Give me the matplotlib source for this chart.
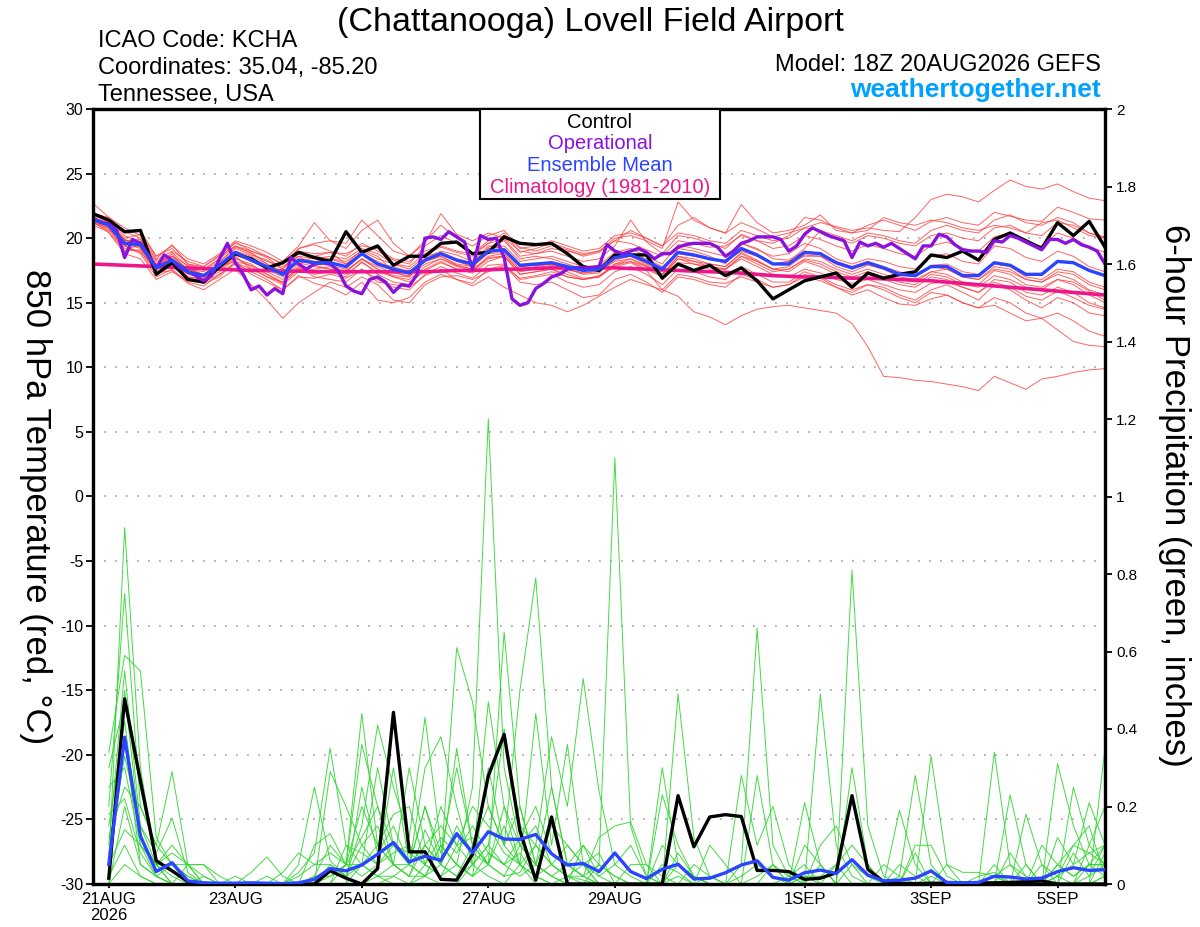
import numpy as np
import matplotlib
matplotlib.use("Agg")
import matplotlib.pyplot as plt
from matplotlib.patches import Rectangle

plt.rcParams['font.family'] = ['Liberation Sans', 'DejaVu Sans']
plt.rcParams['axes.unicode_minus'] = False

# ------------------------------------------------------------------ data
title = "(Chattanooga) Lovell Field Airport"
info_lines = ["ICAO Code: KCHA", "Coordinates: 35.04, -85.20", "Tennessee, USA"]
model_text = "Model: 18Z 20AUG2026 GEFS"
site_text = "weathertogether.net"
legend_labels = ["Control", "Operational", "Ensemble Mean", "Climatology (1981-2010)"]

x_tick_days = [0, 2, 4, 6, 8, 11, 13, 15]
x_tick_labels = ["21AUG\n2026", "23AUG", "25AUG", "27AUG", "29AUG", "1SEP", "3SEP", "5SEP"]
temp_ticks = [-30, -25, -20, -15, -10, -5, 0, 5, 10, 15, 20, 25, 30]
temp_grid = [-25, -20, -15, -10, -5, 0, 5, 10, 15, 20, 25]
precip_ticks = [0, 0.2, 0.4, 0.6, 0.8, 1.0, 1.2, 1.4, 1.6, 1.8, 2.0]
precip_tick_labels = ["0", "0.2", "0.4", "0.6", "0.8", "1", "1.2", "1.4", "1.6", "1.8", "2"]

# forecast hours after 18Z 20AUG
temp_hours = np.arange(0, 385, 6)
oper_hours = np.arange(0, 385, 3)
precip_hours = np.arange(6, 385, 6)

control_t = [21.9,21.4,20.5,20.6,17.2,18.1,16.8,16.6,17.8,18.8,
             18.4,17.7,18.1,18.9,18.5,18.2,20.5,18.9,19.4,17.9,
             18.6,18.6,19.6,19.7,18.8,18.9,20.1,19.6,19.5,19.6,
             18.8,17.8,17.5,18.7,18.7,18.7,16.9,18.0,17.5,17.9,
             17.1,17.7,16.7,15.3,16.0,16.7,17.0,17.3,16.2,17.3,
             16.9,17.2,17.4,18.7,18.5,19.0,18.3,19.9,20.4,19.8,
             19.2,21.2,20.2,21.3,19.3]

operational_t = [21.5,21.2,21.1,20.6,18.5,19.9,19.6,18.7,17.7,18.7,
                 18.3,17.7,17.4,17.1,16.7,17.1,18.4,19.6,18.1,17.2,
                 16.0,16.3,15.6,16.1,15.7,18.5,18.0,17.6,18.0,18.1,
                 18.0,17.5,16.3,15.9,15.7,16.8,17.0,16.6,15.8,16.4,
                 16.3,17.2,20.0,
                 20.1,19.9,20.5,20.1,19.7,17.6,20.2,19.9,20.0,18.5,
                 15.3,14.8,15.0,16.1,16.5,17.0,17.2,17.6,17.7,17.7,
                 17.7,17.8,19.5,19.0,18.8,19.0,19.2,18.9,18.4,18.8,
                 18.8,19.3,19.5,19.6,19.6,19.6,19.3,18.6,19.0,19.6,
                 19.8,20.1,20.1,20.1,
                 19.9,19.0,19.4,20.3,20.8,20.5,20.2,20.0,19.8,18.5,
                 19.7,19.4,19.6,19.3,19.6,19.2,18.8,18.4,19.4,19.4,
                 20.3,20.1,19.5,19.1,19.0,19.0,18.9,19.8,19.7,20.2,
                 20.0,19.7,19.4,19.1,19.9,19.9,19.6,19.9,19.5,19.3,
                 19.0,18.0]

ens_mean_t = [21.5,21.0,19.6,19.5,17.7,18.3,17.4,17.1,17.9,18.9,
              18.3,17.8,17.2,18.3,18.1,18.1,17.8,18.8,18.0,17.6,
              17.3,18.3,18.8,18.3,18.0,19.0,19.1,17.9,18.0,18.1,
              17.8,17.5,17.6,18.5,18.7,18.2,17.6,18.9,18.7,18.4,
              18.2,19.2,18.7,18.0,18.0,18.9,18.8,18.1,17.7,18.1,
              17.7,17.2,17.1,17.8,17.8,17.1,17.1,18.1,17.9,17.2,
              17.2,18.2,18.1,17.5,17.1]

climatology_t = [18.0,17.95,17.9,17.85,17.8,17.75,17.7,17.65,17.6,17.55,
                 17.5,17.5,17.45,17.45,17.4,17.4,17.4,17.4,17.4,17.4,
                 17.4,17.4,17.45,17.5,17.5,17.55,17.6,17.6,17.65,17.7,
                 17.7,17.7,17.7,17.7,17.65,17.6,17.55,17.5,17.45,17.4,
                 17.35,17.3,17.2,17.1,17.05,17.0,17.0,16.95,16.9,16.9,
                 16.85,16.8,16.75,16.7,16.6,16.5,16.4,16.3,16.2,16.1,
                 16.0,15.9,15.8,15.7,15.6]

control_p = [.015,.478,.266,.06,.034,.006,0,0,0,0,
             0,0,0,0,.034,.015,0,.04,.443,.083,
             .083,.012,.01,.077,.279,.386,.137,.01,.173,0,
             0,0,0,0,0,0,.228,.096,.173,.179,
             .174,.035,.035,.032,.012,.015,.029,.228,.038,.006,
             .002,.001,.002,.002,.002,.003,.003,.004,.006,.008,
             0,0,0,0]

ens_mean_p = [.051,.379,.124,.032,.055,.008,.003,.002,.002,.003,
              .002,.001,.003,.012,.040,.034,.049,.077,.107,.057,
              .072,.061,.13,.081,.135,.116,.115,.128,.078,.049,
              .053,.032,.08,.032,.014,.038,.051,.013,.015,.029,
              .049,.06,.017,.01,.029,.036,.027,.063,.023,.008,
              .01,.015,.034,.004,.003,.004,.02,.018,.013,.015,
              .032,.042,.035,.037]

# ensemble members, 850 hPa temperature
t_m01 = [22.7,21.6,20.8,20.2,18.4,19.5,18.0,17.6,18.4,19.7,19.0,18.5,17.6,19.2,19.5,19.0,
         18.6,19.6,19.0,18.3,18.0,19.4,20.2,19.6,18.8,19.8,20.2,19.3,19.0,19.4,19.1,18.6,
         18.9,19.8,20.6,20.0,19.4,21.0,21.6,20.8,20.4,21.2,20.7,20.1,20.4,20.8,21.2,20.9,
         20.6,20.8,20.6,20.5,21.6,23.0,23.4,23.2,22.8,23.7,24.5,24.0,23.8,24.2,23.6,23.1,22.9]
t_m02 = [21.3,20.7,19.2,19.0,17.2,17.8,16.9,16.5,17.0,18.2,17.9,17.2,16.5,17.6,17.4,17.5,
         17.2,18.1,17.4,17.0,16.6,17.5,18.1,17.6,17.3,18.2,18.6,17.2,17.4,17.6,17.0,16.8,
         17.0,17.8,18.1,17.5,16.0,15.5,14.3,13.9,13.3,14.0,14.5,14.7,14.8,14.6,14.4,14.2,
         13.4,11.6,9.3,9.2,9.0,8.9,8.7,8.5,8.2,9.3,8.8,8.3,9.1,9.3,9.6,9.8,9.9]
t_m03 = [21.6,20.9,19.4,18.8,17.0,17.6,16.6,16.3,17.2,18.0,17.4,16.8,16.0,17.0,16.9,17.2,
         16.9,17.6,16.6,16.4,16.2,17.1,17.6,16.8,16.3,17.0,16.2,15.6,15.0,14.8,14.3,14.8,
         15.5,16.2,16.8,16.4,16.0,17.2,17.0,16.6,16.5,17.0,16.6,16.2,16.4,17.0,16.7,16.2,
         15.6,16.0,15.4,14.9,14.8,15.3,15.6,15.0,14.6,14.8,14.2,13.6,13.8,12.9,12.0,11.7,11.6]
t_m04 = [21.9,21.2,19.9,19.3,17.3,17.5,16.5,16.0,16.8,17.6,16.4,15.2,13.8,15.0,15.8,16.6,
         16.2,17.0,16.4,15.2,15.0,16.4,17.0,17.1,16.8,17.4,17.8,16.9,17.1,17.4,17.0,16.8,
         17.1,17.9,18.2,17.8,17.0,18.1,18.0,17.6,17.6,18.4,17.8,17.2,17.0,17.6,17.3,16.8,
         16.5,16.8,16.4,16.0,15.8,16.5,16.6,16.2,15.8,16.6,16.2,15.5,15.2,15.9,15.4,14.8,14.5]
t_m05 = [21.7,21.4,20.4,20.6,18.6,19.2,18.0,17.8,18.7,19.8,19.4,18.9,18.2,19.4,21.2,19.8,
         19.2,20.6,21.4,19.6,18.6,19.6,21.9,20.3,19.8,20.4,20.0,19.0,18.8,19.0,18.6,18.2,
         18.4,19.4,21.4,19.7,18.8,20.2,20.0,19.6,19.2,20.3,19.8,19.2,19.4,20.2,19.9,19.4,
         19.0,19.5,19.2,18.8,18.6,19.4,19.7,19.2,19.0,20.1,20.4,19.6,19.4,20.4,20.0,19.3,18.9]
t_m06 = [21.4,20.8,19.0,19.6,17.8,18.9,17.8,17.0,17.6,18.6,17.6,17.4,16.8,18.0,18.6,18.9,
         18.0,19.1,18.6,17.4,17.0,18.2,18.6,17.9,17.6,19.3,19.8,18.4,18.6,18.4,18.0,17.6,
         17.8,18.6,18.6,18.0,17.2,18.6,18.2,18.0,17.8,18.9,18.3,17.6,17.8,18.7,18.6,17.8,
         17.4,17.9,17.6,17.0,16.8,17.4,17.2,16.6,16.4,17.5,17.2,16.4,16.2,16.8,16.6,15.9,15.2]
t_m07 = [21.2,20.6,19.8,19.7,18.2,18.6,17.9,17.5,18.4,19.4,18.8,18.2,17.8,18.6,17.9,17.6,
         17.4,18.4,17.6,17.1,17.0,18.4,19.0,18.7,18.2,19.4,19.2,17.8,17.9,18.0,17.6,17.2,
         17.3,18.4,18.6,18.1,17.4,19.2,19.0,18.6,18.0,19.6,19.1,18.6,18.8,19.6,19.2,18.4,
         18.0,18.4,18.2,17.8,17.6,18.6,18.8,18.2,18.0,19.4,19.2,18.5,18.2,19.0,18.6,17.8,17.4]
t_m08 = [21.6,21.2,19.4,18.9,17.6,18.2,17.0,16.8,17.4,18.4,18.0,17.2,16.6,17.7,17.2,17.4,
         17.0,18.2,17.2,16.6,16.4,17.6,18.2,17.6,17.4,18.6,18.8,17.4,17.6,17.8,17.4,16.9,
         17.0,18.0,18.2,17.6,17.0,18.4,18.0,17.8,17.6,18.6,18.0,17.4,17.6,18.3,18.0,17.4,
         17.0,17.4,17.0,16.6,16.4,17.2,17.0,16.4,16.2,17.1,16.8,16.2,16.0,16.8,16.4,15.6,15.0]
t_m09 = [21.5,21.1,19.8,19.9,17.9,18.4,17.6,17.4,18.2,19.2,18.7,18.3,17.6,18.8,18.6,18.4,
         18.2,19.0,18.4,18.0,17.8,18.8,19.3,18.9,18.6,19.6,19.9,18.6,18.8,19.2,19.0,18.7,
         19.0,19.8,19.6,19.1,18.6,19.8,19.6,19.3,19.4,20.2,19.8,19.6,20.2,21.6,21.4,20.8,
         20.4,21.0,21.4,21.0,20.6,21.3,21.6,21.2,21.0,22.0,21.7,21.4,21.3,22.4,22.0,21.5,21.4]
t_m10 = [21.3,20.4,18.8,18.4,16.8,17.4,16.7,16.9,17.8,18.2,17.2,16.6,16.0,17.1,16.5,16.2,
         15.6,16.6,15.2,15.0,15.4,16.6,17.2,16.8,16.5,17.6,17.9,16.6,16.4,16.6,16.0,15.4,
         15.6,16.8,17.2,16.6,15.8,17.0,16.8,16.4,16.2,17.2,16.8,16.2,16.4,17.2,16.9,16.2,
         15.8,16.4,16.2,15.6,15.2,16.0,16.4,15.8,15.2,16.4,16.0,15.2,14.6,15.4,15.0,14.2,14.0]
t_m11 = [21.8,21.3,20.2,19.6,17.8,18.6,17.6,17.2,18.0,19.0,18.6,18.0,17.4,18.6,18.4,18.6,
         18.4,19.2,18.8,18.0,17.6,18.6,18.9,18.4,18.1,19.2,19.4,18.2,18.4,18.6,18.2,17.8,
         17.9,18.9,19.2,18.6,18.0,19.5,19.2,18.9,18.6,19.6,19.2,18.4,18.3,19.0,18.8,18.2,
         17.8,18.2,17.8,17.4,17.0,17.9,18.0,17.4,17.2,18.0,17.8,17.0,16.8,17.6,17.4,16.6,16.2]
t_m12 = [21.4,21.0,19.6,19.2,17.4,18.0,17.2,17.0,17.7,18.7,18.2,17.6,17.0,18.2,18.0,17.9,
         17.6,18.8,18.0,17.8,17.4,18.4,18.8,18.2,17.8,18.8,18.9,17.6,17.8,18.0,17.8,17.6,
         17.8,18.6,18.8,18.4,17.8,18.8,18.6,18.4,18.2,19.0,18.6,18.0,18.2,18.6,18.6,18.0,
         17.6,18.0,17.6,17.2,17.0,17.8,17.6,17.0,16.8,17.6,17.4,16.8,16.6,17.4,17.2,16.4,16.0]
t_m13 = [21.9,21.6,20.5,20.0,18.3,19.0,18.2,17.8,18.6,19.4,19.0,18.6,18.0,19.0,18.8,18.9,
         18.8,19.4,19.2,18.4,18.2,19.0,19.4,19.0,18.8,19.6,20.4,18.9,19.2,19.6,19.2,18.8,
         19.0,20.0,20.2,19.8,19.2,22.8,21.4,20.8,20.4,22.6,21.2,20.4,20.6,21.0,21.8,20.6,
         20.4,20.6,21.6,21.2,21.0,21.4,21.2,20.8,20.6,21.0,20.8,20.4,21.2,21.4,20.8,20.2,20.0]
t_m14 = [21.2,20.8,19.4,19.8,18.0,18.6,17.6,17.2,18.0,19.0,18.4,17.8,17.2,18.4,18.2,18.4,
         18.0,18.8,18.2,17.6,17.2,18.2,18.6,18.0,17.8,18.9,19.0,17.8,17.9,18.0,17.6,17.3,
         17.4,18.2,18.4,17.9,17.2,18.6,18.4,18.0,17.8,18.8,18.2,17.6,17.6,18.4,18.2,17.6,
         17.2,17.6,17.2,16.8,16.6,17.4,17.6,17.0,16.8,17.8,17.6,16.8,16.6,17.2,16.8,16.0,15.6]
t_m15 = [21.6,21.2,20.0,20.3,18.6,19.4,18.4,18.0,18.8,19.6,19.2,18.6,18.0,19.2,19.6,19.8,
         19.6,21.4,20.2,19.0,18.6,19.8,21.0,20.0,19.4,20.2,20.6,19.2,19.4,19.8,19.4,19.0,
         19.2,20.2,20.4,20.0,19.4,20.4,20.2,19.8,19.6,20.6,20.2,19.8,20.0,20.8,20.6,20.0,
         19.6,20.2,20.0,19.6,19.4,20.2,20.4,20.0,19.8,20.8,21.0,20.4,20.2,21.2,21.0,20.4,20.0]
t_m16 = [21.5,20.9,19.5,19.3,17.6,17.8,16.9,16.6,17.2,18.1,17.6,17.0,16.4,17.4,17.6,17.8,
         17.4,18.4,17.6,17.0,16.8,17.8,18.4,17.8,17.5,18.4,18.6,17.2,17.4,17.6,17.2,16.8,
         17.0,18.0,18.4,17.8,17.2,18.4,18.2,17.8,17.6,18.6,18.2,17.6,17.4,18.2,17.8,17.2,
         16.8,17.2,16.8,16.4,16.2,17.0,16.8,16.2,15.8,16.8,16.6,15.8,15.6,16.2,15.8,15.0,14.6]
t_m17 = [21.6,21.0,19.9,19.4,17.5,18.8,17.3,17.0,18.1,19.3,18.9,18.0,17.3,18.1,17.8,17.6,
         17.5,18.4,17.8,17.3,17.1,18.0,18.4,17.9,17.6,18.5,18.6,17.5,17.7,17.9,17.6,17.3,
         17.5,18.3,18.6,18.2,17.6,18.9,18.7,18.4,18.3,19.2,18.6,18.0,18.2,19.2,20.6,20.2,
         19.8,20.4,20.2,19.8,19.6,20.6,21.0,20.6,20.4,21.4,21.8,21.2,21.0,21.6,21.2,20.4,20.1]
t_m18 = [21.0,20.5,19.0,19.1,17.8,18.0,17.0,16.8,17.6,18.5,17.8,17.0,16.6,17.8,17.0,16.8,
         16.6,17.6,16.8,16.2,16.0,17.2,17.8,17.3,16.9,17.9,18.0,16.8,17.0,17.2,16.6,16.2,
         16.4,17.4,17.8,17.2,16.4,17.6,17.4,17.0,16.8,17.8,17.2,16.6,16.6,17.4,17.0,16.4,
         16.0,16.4,16.0,15.4,15.0,15.8,15.6,15.0,14.6,15.4,15.0,14.2,13.8,14.2,13.6,12.8,12.4]
temp_members = [t_m01, t_m02, t_m03, t_m04, t_m05, t_m06, t_m07, t_m08, t_m09,
                t_m10, t_m11, t_m12, t_m13, t_m14, t_m15, t_m16, t_m17, t_m18]

# ensemble members, 6-hour precipitation (inches)
p_m01 = [.05,.92,.30,.05,.02,0,0,0, 0,0,0,0,0,.02,.10,.05,
         .44,.10,.05,.02,.14,.05,.61,.47, .20,.10,.05,.02,0,0,.10,.05,
         1.10,.15,.02,0,0,0,0,0, .05,.66,.10,.02,0,0,0,0,
         0,0,.02,.28,.05,0,0,0, 0,0,0,0,.05,.02,.05,.10]
p_m02 = [.34,.59,.55,.12,.05,.02,0,0, 0,0,0,0,.03,.08,.35,.10,
         .05,.30,.10,.05,.02,.10,.05,.25, 1.20,.30,.10,.05,.02,0,0,0,
         0,0,0,.30,.05,.02,0,0, 0,0,0,0,.21,.05,0,.81,
         .15,.02,0,0,0,0,0,0, .34,.05,0,0,0,0,0,.02]
p_m03 = [.20,.75,.20,.10,.29,.05,.05,.02, 0,0,0,0,0,0,0,.05,
         .36,.20,.05,.30,.10,.05,.35,.10, .05,.65,.20,.05,.02,0,0,0,
         0,0,0,0,.49,.12,.02,0, 0,0,0,0,0,.49,.10,.02,
         0,0,0,0,.33,.05,0,0, 0,0,0,0,.31,.15,.05,.05]
p_m04 = [.10,.55,.15,.08,.17,.03,0,0, 0,0,0,0,.05,.25,.06,.02,
         .15,.41,.25,.12,.43,.10,.05,.02, .30,.10,.50,.79,.25,.05,.02,0,
         0,0,0,0,0,0,0,0, .28,.10,.20,.05,0,0,0,0,
         0,0,.19,.05,0,0,0,0, 0,.23,.05,0,0,.25,.10,.05]
p_m05 = [.30,.47,.25,.05,.10,.05,0,0, 0,.03,.07,.02,0,0,.29,.20,
         .10,.05,.30,.05,.30,.38,.20,.05, .47,.20,.05,.44,.10,.36,.05,0,
         0,0,0,.23,.10,.02,0,0, 0,.28,.05,0,0,0,0,.30,
         .05,0,0,0,0,0,0,0, .05,0,.18,.05,0,0,0,.35]
p_m06 = [.15,.42,.10,.05,.05,.02,0,0, 0,0,0,0,0,.10,.13,.05,
         .20,.10,.18,.20,.05,.20,.10,.05, .10,.40,.15,.10,.38,.20,.53,.24,
         .05,.02,0,0,0,0,.10,.05, 0,0,0,0,0,.10,.15,.05,
         0,0,0,.10,.10,.02,0,0, 0,0,0,0,.12,.05,.21,.10]
p_m07 = [.02,.38,.05,.02,0,0,0,0, .02,0,0,0,0,0,0,.10,
         .08,.05,.10,.05,.20,.05,.02,.10, .05,.20,.10,.05,.25,.05,.02,.12,
         .15,.16,.05,0,0,0,0,0, 0,0,0,.02,.05,0,0,0,
         0,.05,.02,0,0,0,0,0, .02,.05,.02,0,0,0,.10,.20]
p_m08 = [.08,.33,.15,.05,0,0,.02,0, 0,0,0,.03,.08,.05,.05,.02,
         .10,.15,.05,.02,.10,.05,.15,.08, .05,.02,.10,.15,.05,.10,.05,.02,
         .05,.10,.02,0,0,.05,.02,0, 0,0,.05,.02,0,0,0,0,
         0,0,0,0,0,.05,.03,.03, .02,0,0,.10,.05,.02,.05,.05]
p_m09 = [.25,.30,.10,.02,.05,.05,.05,0, 0,0,0,0,0,0,.02,.05,
         .02,.05,.08,.10,.05,.02,.10,.20, .15,.08,.05,.10,.05,.02,.05,0,
         0,.05,.05,.02,0,0,0,0, .02,.05,.02,0,0,.05,0,0,
         0,0,0,0,0,0,0,0, 0,0,0,0,.02,.10,.15,.02]
p_m10 = [.12,.25,.20,.10,.05,0,0,0, 0,0,0,0,0,0,0,0,
         .05,.10,.05,.05,.10,.15,.10,.12, .05,.02,.03,.10,.05,.02,.02,0,
         0,0,0,.05,.03,0,0,0, 0,0,0,0,.02,.02,.05,0,
         0,0,0,0,0,0,0,0, .02,0,0,0,.05,.10,.08,.10]
p_m11 = [0,.20,.05,.02,0,0,0,0, 0,0,0,0,0,0,0,0,
         0,.02,.05,.02,.02,.10,.05,.02, .08,.05,.02,.05,.02,.05,.10,.02,
         0,0,0,0,.05,.02,0,0, 0,0,0,0,0,0,0,0,
         0,0,.05,.02,0,0,0,0, 0,0,.05,0,0,0,.02,.05]
p_m12 = [.05,.14,.10,.05,0,.05,.02,0, 0,0,0,0,0,0,.05,.02,
         .05,.02,.02,.05,.02,.05,.02,.05, .10,.05,.08,.02,.05,.02,.01,0,
         0,0,0,0,0,0,0,0, 0,.02,.05,0,0,0,0,0,
         0,0,0,0,0,0,0,.02, .03,0,0,0,0,0,0,.08]
p_m13 = [.02,.10,.02,0,0,0,0,0, 0,0,0,0,0,.02,.02,.05,
         .05,.02,0,0,.05,.02,.05,.02, .05,.15,.05,.02,0,0,0,.05,
         .02,0,0,0,0,0,.02,0, 0,0,0,0,0,0,.05,.10,
         .05,0,0,0,0,0,0,0, 0,0,0,0,0,0,.05,.02]
p_m14 = [0,.05,.02,0,0,0,0,0, 0,0,0,0,0,0,0,0,
         0,0,.02,0,.02,0,0,.05, .02,0,.05,0,0,.02,0,0,
         0,0,0,0,.02,0,0,0, 0,0,0,0,.02,0,0,0,
         0,0,0,0,.02,0,0,0, 0,0,0,0,.02,0,0,.02]
p_m15 = [0,.50,.12,.05,.08,.05,0,0, 0,0,.02,0,0,0,0,0,
         .25,.08,.15,.05,.20,.08,.30,.10, .20,.10,.20,.05,.15,.10,.05,.08,
         0,0,0,0,.08,.02,0,0, 0,0,0,0,.10,.05,0,0,
         0,0,0,.08,0,0,0,0, 0,.08,.02,0,0,.08,.02,.10]
p_m16 = [.18,.22,.08,.02,0,0,0,0, 0,0,0,0,.02,.05,.08,.05,
         .12,.20,.10,.08,.05,.12,.08,.15, .08,.05,.12,.20,.08,.05,.02,.05,
         .02,0,0,.10,.05,.02,0,0, 0,0,0,0,0,0,0,.05,
         .02,0,0,0,0,0,0,0, 0,0,0,.05,.02,.05,.08,.05]
precip_members = [p_m01, p_m02, p_m03, p_m04, p_m05, p_m06, p_m07, p_m08,
                  p_m09, p_m10, p_m11, p_m12, p_m13, p_m14, p_m15, p_m16]

# ------------------------------------------------------------------ styles
C_MEMBER_T = '#FF3C3C'
C_MEMBER_P = '#2ED62E'
C_CONTROL = '#000000'
C_OPER = '#8A12DE'
C_MEAN = '#2A44FF'
C_CLIM = '#EE168C'
C_SITE = '#00A2FF'

W, H = 1200, 927
fig = plt.figure(figsize=(W / 100, H / 100), dpi=100)


def fx(px):
    return px / W


def fy(py):
    return 1 - py / H


ax = fig.add_axes([fx(93), fy(884), (1105 - 93) / W, (884 - 109) / H])
ax2 = ax.twinx()

# days since 00Z 21AUG
t_days = (temp_hours - 6) / 24.0
o_days = (oper_hours - 6) / 24.0
p_days = (precip_hours - 6) / 24.0

for yv in temp_grid:
    ax.axhline(yv, color='#A0A0A0', lw=1.1, ls=(0, (1.2, 6)), zorder=1)

for m in temp_members:
    ax.plot(t_days, m, color=C_MEMBER_T, lw=0.7, alpha=0.8, zorder=2)
ax.plot(t_days, climatology_t, color=C_CLIM, lw=2.6, zorder=3, solid_capstyle='round')
ax.plot(t_days, control_t, color=C_CONTROL, lw=2.4, zorder=4)
ax.plot(o_days, operational_t, color=C_OPER, lw=2.4, zorder=5)
ax.plot(t_days, ens_mean_t, color=C_MEAN, lw=2.4, zorder=6)

for m in precip_members:
    ax2.plot(p_days, m, color=C_MEMBER_P, lw=0.7, alpha=0.9, zorder=2)
ax2.plot(p_days, control_p, color=C_CONTROL, lw=2.4, zorder=4)
ax2.plot(p_days, ens_mean_p, color=C_MEAN, lw=2.4, zorder=5)

ax.set_xlim(-0.25, 15.75)
ax.set_ylim(-30, 30)
ax2.set_ylim(0, 2)

ax.set_yticks(temp_ticks)
ax.set_yticklabels([str(v) for v in temp_ticks])
ax2.set_yticks(precip_ticks)
ax2.set_yticklabels(precip_tick_labels)
ax.set_xticks(x_tick_days)
ax.set_xticklabels(x_tick_labels, linespacing=1.05)

ax.tick_params(axis='y', direction='out', length=5, width=1.3, labelsize=11.5, pad=2)
ax2.tick_params(axis='y', direction='out', length=5, width=1.3, labelsize=11, pad=3)
ax.tick_params(axis='x', direction='out', length=3, width=1.3, labelsize=12, pad=3)

for a in (ax, ax2):
    for s in a.spines.values():
        s.set_linewidth(2.3)
        s.set_color('black')

# ------------------------------------------------------------------ texts
fig.text(fx(590), fy(31), title, ha='center', va='baseline', fontsize=24.5)
for txt, yb in zip(info_lines, [47, 74, 101]):
    fig.text(fx(98), fy(yb), txt, ha='left', va='baseline', fontsize=17)
fig.text(fx(1101), fy(71), model_text, ha='right', va='baseline', fontsize=17)
fig.text(fx(1101), fy(97), site_text, ha='right', va='baseline', fontsize=19,
         fontweight='bold', color=C_SITE)

fig.text(fx(35), fy(507), "850 hPa Temperature (red, \u00b0C)", rotation=270,
         ha='center', va='center', fontsize=25)
fig.text(fx(1175), fy(495), "6-hour Precipitation (green, inches)", rotation=270,
         ha='center', va='center', fontsize=25)

# legend box
fig.patches.append(Rectangle((fx(480), fy(199)), (720 - 480) / W, (199 - 109) / H,
                             transform=fig.transFigure, facecolor='white',
                             edgecolor='black', lw=1.5, zorder=5))
for txt, col, yb in zip(legend_labels, [C_CONTROL, C_OPER, C_MEAN, C_CLIM],
                        [128, 149, 171, 193]):
    fig.text(fx(600), fy(yb), txt, ha='center', va='baseline', fontsize=14.5,
             color=col, zorder=6)

fig.savefig('out.png', dpi=100)
